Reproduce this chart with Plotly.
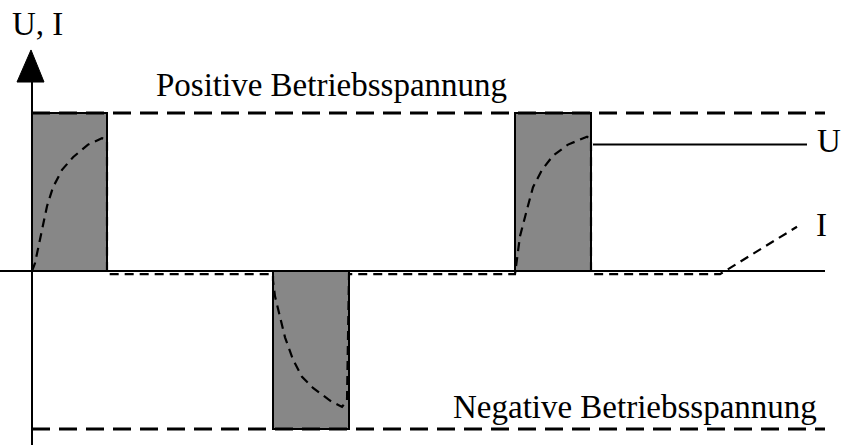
import plotly.graph_objects as go

# ---- data (time in arbitrary units, voltage normalised to operating voltage) ----
pulse_start = [0.0, 24.1, 48.3]
pulse_end = [7.5, 31.7, 55.9]
pulse_level = [1.0, -1.0, 1.0]

supply_pos = 1.0
supply_neg = -1.0

# current trace I (dashed)
I_t = [0.0, 0.3, 0.8, 1.5, 2.1, 3.0, 4.1, 5.6, 7.0, 7.5, 7.5,
       24.1, 24.1, 24.3, 25.3, 26.1, 27.0, 28.1, 29.8, 31.0, 31.5, 31.7,
       48.3, 48.5, 48.8, 49.5, 50.1, 51.0, 52.1, 53.6, 55.5, 55.9, 55.9,
       68.8, 76.5]
I_v = [0.0, 0.05, 0.20, 0.41, 0.53, 0.64, 0.72, 0.80, 0.84, 0.83, -0.02,
       -0.02, -0.06, -0.16, -0.42, -0.56, -0.67, -0.74, -0.82, -0.86, -0.82, -0.02,
       -0.02, 0.09, 0.22, 0.39, 0.53, 0.64, 0.73, 0.80, 0.85, 0.83, -0.02,
       -0.02, 0.28]

# label leader for U
U_lead_t = [56.1, 77.5]
U_lead_v = [0.80, 0.80]

x_range = [-3.2, 80.9]
y_range = [-1.1013, 1.7152]
line_end = 79.3

fig = go.Figure()

# pulses (U)
for s, e, lv in zip(pulse_start, pulse_end, pulse_level):
    fig.add_trace(go.Scatter(x=[s, e, e, s, s], y=[0, 0, lv, lv, 0], mode="lines",
                             fill="toself", fillcolor="#878787",
                             line=dict(color="black", width=2), hoverinfo="skip"))

# supply voltage dashed lines
for lv in (supply_pos, supply_neg):
    fig.add_trace(go.Scatter(x=[0, line_end], y=[lv, lv], mode="lines",
                             line=dict(color="black", width=3, dash="18px,9px"),
                             hoverinfo="skip"))

# baseline
fig.add_trace(go.Scatter(x=[x_range[0], line_end], y=[0, 0], mode="lines",
                         line=dict(color="black", width=2), hoverinfo="skip"))

# vertical axis
fig.add_trace(go.Scatter(x=[0, 0], y=[y_range[0], 1.2], mode="lines",
                         line=dict(color="black", width=2), hoverinfo="skip"))
# arrow head
fig.add_trace(go.Scatter(x=[-1.5, 1.2, -0.1, -1.5], y=[1.196, 1.196, 1.399, 1.196],
                         mode="lines", fill="toself", fillcolor="black",
                         line=dict(color="black", width=1), hoverinfo="skip"))

# current I
fig.add_trace(go.Scatter(x=I_t, y=I_v, mode="lines",
                         line=dict(color="black", width=2.2, dash="9px,6px"),
                         hoverinfo="skip"))

# U leader
fig.add_trace(go.Scatter(x=U_lead_t, y=U_lead_v, mode="lines",
                         line=dict(color="black", width=2), hoverinfo="skip"))

font = dict(family="Liberation Serif, Times New Roman, serif", size=33, color="black")
annotations = [
    dict(x=0.5, y=1.565, text="U, I"),
    dict(x=29.9, y=1.18, text="Positive Betriebsspannung"),
    dict(x=60.3, y=-0.86, text="Negative Betriebsspannung"),
    dict(x=79.7, y=0.82, text="U"),
    dict(x=78.9, y=0.29, text="I"),
]
for a in annotations:
    a.update(showarrow=False, font=font, xanchor="center", yanchor="middle")

fig.update_layout(
    width=841, height=445, margin=dict(l=0, r=0, t=0, b=0),
    paper_bgcolor="white", plot_bgcolor="white", showlegend=False,
    xaxis=dict(range=x_range, visible=False, fixedrange=True),
    yaxis=dict(range=y_range, visible=False, fixedrange=True),
    annotations=annotations,
)

fig.write_html("out.html", config={"displayModeBar": False},
               post_script="document.body.style.margin='0px';document.body.style.overflow='hidden';")
